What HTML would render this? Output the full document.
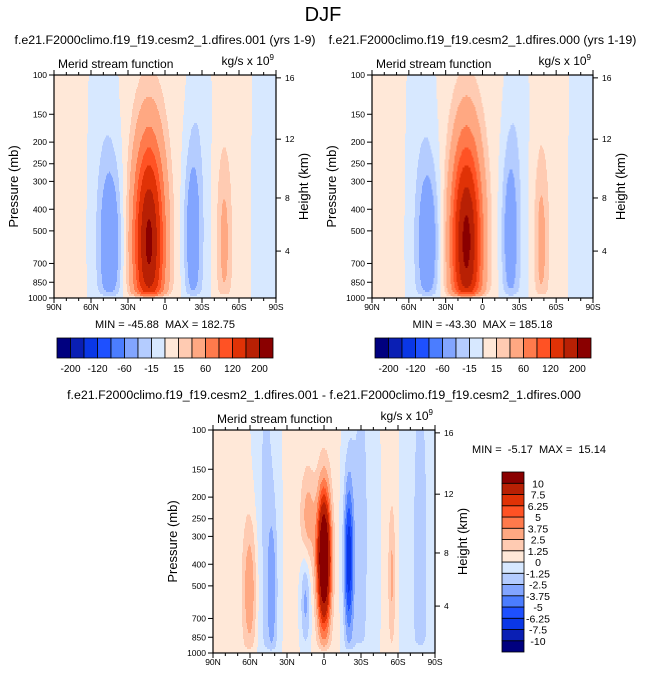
<!DOCTYPE html>
<html><head><meta charset="utf-8">
<style>
body{margin:0;background:#fff;}
svg{display:block;font-family:"Liberation Sans",Arial,sans-serif;}
</style></head>
<body>
<svg id="fig" width="647" height="677" viewBox="0 0 647 677" xmlns="http://www.w3.org/2000/svg">
<text x="323" y="21" font-size="20" text-anchor="middle">DJF</text>
</svg>
<script>
// ---- data ----
const latTicks = [90, 60, 30, 0, -30, -60, -90];
const latTickLabels = ["90N", "60N", "30N", "0", "30S", "60S", "90S"];
const pTicks = [100, 150, 200, 250, 300, 400, 500, 700, 850, 1000];
const hTicks = [4, 8, 12, 16];
const hTickPressure = [616, 356, 194, 103];
const levels1 = [-200, -160, -120, -90, -60, -30, -15, 0, 15, 30, 60, 90, 120, 160, 200];
const levels1Labels = ["-200", "-120", "-60", "-15", "15", "60", "120", "200"];
const levels3 = [-10, -7.5, -6.25, -5, -3.75, -2.5, -1.25, 0, 1.25, 2.5, 3.75, 5, 6.25, 7.5, 10];
const colors = ["#00007f", "#0a1fb4", "#0a37e6", "#1e50ff", "#4b7dff", "#82a5ff", "#b4ccff", "#d7e8ff",
  "#ffe8d8", "#ffcbb2", "#ffa882", "#ff7a4c", "#ff5224", "#e03206", "#b82004", "#8a0000"];
// blobs: [lat, pressure, amplitude, latWidth, logPWidth]
const base1 = 5;
const blobs1 = [[13, 560, 205, 12, 0.45], [44, 560, -50, 9, 0.36], [50, 500, -14, 13, 1.6],
  [-22, 520, -44, 7, 0.4], [-28, 300, -14, 10, 1.6], [-48, 560, 32, 6, 0.4], [-86, 500, -14, 16, 2]];
const base2 = 5;
const blobs2 = [[13, 560, 208, 12, 0.45], [44, 560, -47, 9, 0.36], [50, 500, -14, 13, 1.6],
  [-22, 520, -42, 7, 0.4], [-28, 300, -14, 10, 1.6], [-48, 560, 33, 6, 0.4], [-86, 500, -14, 16, 2]];
const base3 = 0.3;
const blobs3 = [[60, 520, 3.6, 6, 0.33], [42, 520, -2.6, 4, 0.35], [47, 300, -1.8, 10, 1.6],
  [15, 580, -3.2, 4, 0.22], [13, 250, 3.0, 6, 0.22], [0, 380, 15, 5.5, 0.3], [-20, 380, -6.8, 4, 0.35],
  [-30, 300, -1.8, 12, 1.6], [-55, 450, 2.6, 3, 0.33], [-78, 400, -1.8, 13, 2]];
const stats1 = "MIN = -45.88  MAX = 182.75";
const stats2 = "MIN = -43.30  MAX = 185.18";
const stats3 = "MIN =  -5.17  MAX =  15.14";

const NS = "http://www.w3.org/2000/svg";
const svg = document.getElementById('fig');
function mk(tag, attrs, parent) {
  const e = document.createElementNS(NS, tag);
  for (const k in attrs) e.setAttribute(k, attrs[k]);
  (parent || svg).appendChild(e);
  return e;
}
function txt(x, y, s, size, anchor, parent) {
  const t = mk('text', {x: x, y: y, 'font-size': size, 'text-anchor': anchor || 'middle'}, parent);
  t.textContent = s;
  t.setAttribute('xml:space', 'preserve');
  t.style.whiteSpace = 'pre';
  return t;
}
function field(base, blobs, lat, p) {
  const z = Math.log10(p);
  let v = base;
  for (const b of blobs) {
    const dl = (lat - b[0]) / b[3], dz = (z - Math.log10(b[1])) / b[4];
    v += b[2] * Math.exp(-dl * dl - dz * dz);
  }
  const taper = 1 - Math.exp(-(3 - z) / 0.018);
  return v * Math.max(taper, 0);
}
function levelIndex(v, levels) {
  let i = 0;
  while (i < levels.length && v >= levels[i]) i++;
  return i;
}
function panel(name, x0, y0, x1, y1, base, blobs, levels, subtitle, stats) {
  const g = mk('g', {});
  
  
  const xs = lat => x0 + (90 - lat) / 180 * (x1 - x0);
  const ys = p => y0 + (Math.log10(p) - 2) * (y1 - y0);
  const cg = mk('g', {'shape-rendering': 'crispEdges'}, g);
  
  
  const nLat = 222, nZ = 111;
  for (let j = 0; j < nZ; j++) {
    const zA = 2 + j / nZ, zB = 2 + (j + 1) / nZ;
    const pm = Math.pow(10, (zA + zB) / 2);
    let runStart = 0, runCol = -1;
    for (let i = 0; i <= nLat; i++) {
      let c = -1;
      if (i < nLat) {
        const lat = 90 - (i + 0.5) * 180 / nLat;
        const v = field(base, blobs, lat, pm);
        c = (Math.abs(v) < 1e-9 && pm > 990) ? 99 : levelIndex(v, levels);
      }
      if (c !== runCol) {
        if (runCol >= 0) {
          const la = 90 - runStart * 180 / nLat, lb = 90 - i * 180 / nLat;
          const r = mk('rect', {x: xs(la).toFixed(2), y: ys(Math.pow(10, zA)).toFixed(2),
            width: (xs(lb) - xs(la) + 0.5).toFixed(2), height: (ys(Math.pow(10, zB)) - ys(Math.pow(10, zA)) + 0.5).toFixed(2),
            fill: runCol === 99 ? '#fff' : colors[runCol]}, cg);
          
          
        }
        runStart = i; runCol = c;
      }
    }
  }
  mk('rect', {x: x0, y: y0, width: x1 - x0, height: y1 - y0, fill: 'none', stroke: '#000', 'stroke-width': 1.2}, g);
  for (let lat = 90; lat >= -90; lat -= 10) {
    const maj = lat % 30 === 0, L = maj ? 5 : 3, x = xs(lat);
    mk('line', {x1: x, y1: y1, x2: x, y2: y1 + L, stroke: '#000'}, g);
    mk('line', {x1: x, y1: y0, x2: x, y2: y0 - L, stroke: '#000'}, g);
  }
  latTicks.forEach((lat, k) => {
    const t = txt(xs(lat), y1 + 12, latTickLabels[k], 8.5, 'middle', g);
    
    
  });
  pTicks.forEach(p => {
    mk('line', {x1: x0 - 5, y1: ys(p), x2: x0, y2: ys(p), stroke: '#000'}, g);
    const t = txt(x0 - 7, ys(p) + 3, String(p), 8.5, 'end', g);
    
    
  });
  hTicks.forEach((h, k) => {
    const y = ys(hTickPressure[k]);
    mk('line', {x1: x1, y1: y, x2: x1 + 5, y2: y, stroke: '#000'}, g);
    const t = txt(x1 + 9, y + 3, String(h), 8.5, 'start', g);
    
    
  });
  const yt = txt(0, 0, 'Pressure (mb)', 13, 'middle', g);
  yt.setAttribute('transform', `translate(${x0 - 36},${(y0 + y1) / 2}) rotate(-90)`);
  
  
  const ht = txt(0, 0, 'Height (km)', 13, 'middle', g);
  ht.setAttribute('transform', `translate(${x1 + 32},${(y0 + y1) / 2}) rotate(-90)`);
  
  
  const mt = txt(x0 + 4, y0 - 7, 'Merid stream function', 12, 'start', g);
  
  
  const ut = mk('text', {x: x1 - 2, y: y0 - 10, 'font-size': 12, 'text-anchor': 'end'}, g);
  ut.innerHTML = 'kg/s x 10<tspan font-size="8" dy="-5">9</tspan>';
  
  
  const st = txt((x0 + x1) / 2, y0 - 31, subtitle, 12.4, 'middle', g);
  
  
  if (stats) {
    const s = txt((x0 + x1) / 2, y1 + 30, stats, 11, 'middle', g);
    
    
  }
}
function hColorbar(name, x0, y0, w, h) {
  const g = mk('g', {});
  
  
  const bw = w / colors.length;
  colors.forEach((c, i) => {
    const r = mk('rect', {x: x0 + i * bw, y: y0, width: bw, height: h, fill: c, stroke: '#000', 'stroke-width': 0.8}, g);
    
    
  });
  levels1Labels.forEach((s, k) => {
    const t = txt(x0 + (2 * k + 1) * bw, y0 + h + 14, s, 10, 'middle', g);
    
    
  });
}
function vColorbar(name, x0, y0, w, h) {
  const g = mk('g', {});
  
  
  const bh = h / colors.length;
  colors.forEach((c, i) => {
    const r = mk('rect', {x: x0, y: y0 + (colors.length - 1 - i) * bh, width: w, height: bh, fill: c, stroke: '#000', 'stroke-width': 0.8}, g);
    
    
  });
  levels3.forEach((v, i) => {
    const t = txt(x0 + w + 14, y0 + (colors.length - 1 - i) * bh + 4, String(v), 10.5, 'middle', g);
    
    
  });
}
panel('panel-left', 54, 75, 276, 298, base1, blobs1, levels1, 'f.e21.F2000climo.f19_f19.cesm2_1.dfires.001 (yrs 1-9)', stats1);
panel('panel-right', 372, 75, 593, 298, base2, blobs2, levels1, 'f.e21.F2000climo.f19_f19.cesm2_1.dfires.000 (yrs 1-19)', stats2);
panel('panel-diff', 213, 430, 435, 653, base3, blobs3, levels3, 'f.e21.F2000climo.f19_f19.cesm2_1.dfires.001 - f.e21.F2000climo.f19_f19.cesm2_1.dfires.000', null);
hColorbar('colorbar-left', 57, 338, 216, 20);
hColorbar('colorbar-right', 375, 338, 216, 20);
vColorbar('colorbar-diff', 502, 472, 22, 180);
const s3 = txt(539, 453, stats3, 11, 'middle');


</script>
</body></html>
